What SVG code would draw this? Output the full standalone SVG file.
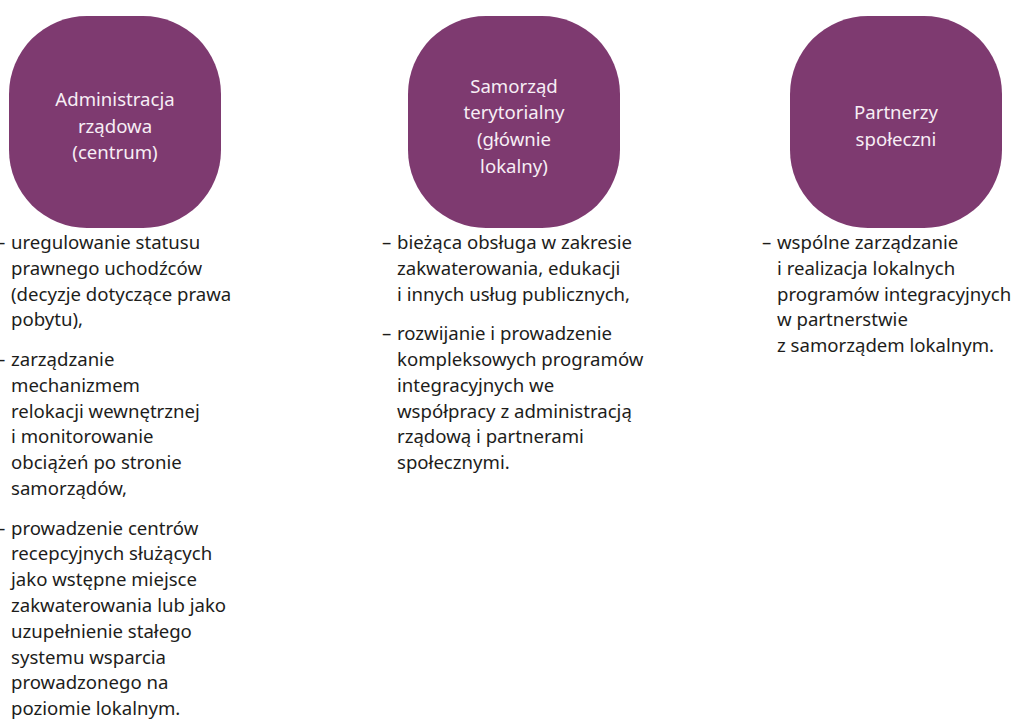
<svg xmlns="http://www.w3.org/2000/svg" width="1014" height="719" viewBox="0 0 1014 719">
<style>
.box{fill:#7e3a70}
.nt{font-family:"Noto Sans","Open Sans",sans-serif;font-size:18.6px;fill:#f7eef5;text-anchor:middle}
.bt{font-family:"Noto Sans","Open Sans",sans-serif;font-size:18.6px;fill:#1d1d1b}
</style>
<rect width="1014" height="719" fill="#ffffff"/>
<g id="connectors"></g>
<g id="node-admin">
<rect class="box" x="9" y="16" width="212" height="212" rx="78" ry="78"/>
<text class="nt"><tspan x="115" y="106">Administracja</tspan><tspan x="115" y="132.5">rządowa</tspan><tspan x="115" y="159">(centrum)</tspan></text>
</g>
<g id="node-samorzad">
<rect class="box" x="408" y="16" width="212" height="212" rx="78" ry="78"/>
<text class="nt"><tspan x="514" y="92.7">Samorząd</tspan><tspan x="514" y="119.3">terytorialny</tspan><tspan x="514" y="146">(głównie</tspan><tspan x="514" y="172.5">lokalny)</tspan></text>
</g>
<g id="node-partnerzy">
<rect class="box" x="790" y="16" width="212" height="212" rx="78" ry="78"/>
<text class="nt"><tspan x="896" y="119.3">Partnerzy</tspan><tspan x="896" y="146">społeczni</tspan></text>
</g>
<g id="text-admin">
<text class="bt"><tspan x="-4" y="249">–</tspan><tspan x="11" y="249">uregulowanie statusu</tspan><tspan x="11" y="274.8">prawnego uchodźców</tspan><tspan x="11" y="300.6">(decyzje dotyczące prawa</tspan><tspan x="11" y="326.4">pobytu),</tspan></text>
<text class="bt"><tspan x="-4" y="366">–</tspan><tspan x="11" y="366">zarządzanie</tspan><tspan x="11" y="391.8">mechanizmem</tspan><tspan x="11" y="417.6">relokacji wewnętrznej</tspan><tspan x="11" y="443.4">i monitorowanie</tspan><tspan x="11" y="469.2">obciążeń po stronie</tspan><tspan x="11" y="495">samorządów,</tspan></text>
<text class="bt"><tspan x="-4" y="534.6">–</tspan><tspan x="11" y="534.6">prowadzenie centrów</tspan><tspan x="11" y="560.4">recepcyjnych służących</tspan><tspan x="11" y="586.2">jako wstępne miejsce</tspan><tspan x="11" y="612">zakwaterowania lub jako</tspan><tspan x="11" y="637.8">uzupełnienie stałego</tspan><tspan x="11" y="663.6">systemu wsparcia</tspan><tspan x="11" y="689.4">prowadzonego na</tspan><tspan x="11" y="715.2">poziomie lokalnym.</tspan></text>
</g>
<g id="text-samorzad">
<text class="bt"><tspan x="382" y="249">–</tspan><tspan x="397" y="249">bieżąca obsługa w zakresie</tspan><tspan x="397" y="274.8">zakwaterowania, edukacji</tspan><tspan x="397" y="300.6">i innych usług publicznych,</tspan></text>
<text class="bt"><tspan x="382" y="340.2">–</tspan><tspan x="397" y="340.2">rozwijanie i prowadzenie</tspan><tspan x="397" y="366">kompleksowych programów</tspan><tspan x="397" y="391.8">integracyjnych we</tspan><tspan x="397" y="417.6">współpracy z administracją</tspan><tspan x="397" y="443.4">rządową i partnerami</tspan><tspan x="397" y="469.2">społecznymi.</tspan></text>
</g>
<g id="text-partnerzy">
<text class="bt"><tspan x="762" y="249">–</tspan><tspan x="777" y="249">wspólne zarządzanie</tspan><tspan x="777" y="274.8">i realizacja lokalnych</tspan><tspan x="777" y="300.6">programów integracyjnych</tspan><tspan x="777" y="326.4">w partnerstwie</tspan><tspan x="777" y="352.2">z samorządem lokalnym.</tspan></text>
</g>
</svg>
